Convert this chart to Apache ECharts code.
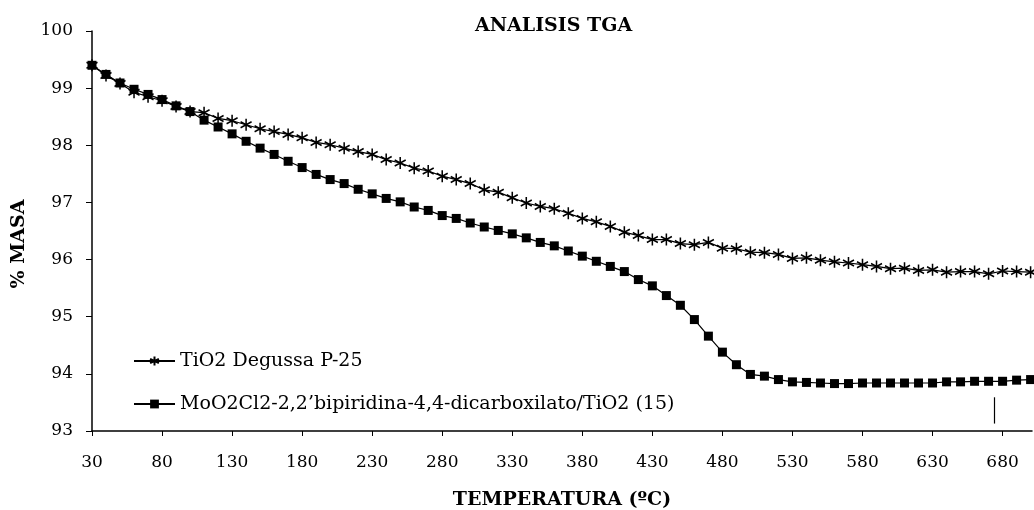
<!DOCTYPE html>
<html>
<head>
<meta charset="utf-8">
<script src="https://cdn.jsdelivr.net/npm/echarts@6/dist/echarts.min.js"></script>
<style>
  html, body { margin: 0; padding: 0; background: #fff; }
  #chart { width: 1034px; height: 510px; }
</style>
</head>
<body>
<div id="chart"></div>
<script>
  const temps = [30, 40, 50, 60, 70, 80, 90, 100, 110, 120, 130, 140, 150, 160, 170, 180, 190, 200,
    210, 220, 230, 240, 250, 260, 270, 280, 290, 300, 310, 320, 330, 340, 350, 360, 370, 380,
    390, 400, 410, 420, 430, 440, 450, 460, 470, 480, 490, 500, 510, 520, 530, 540, 550, 560,
    570, 580, 590, 600, 610, 620, 630, 640, 650, 660, 670, 680, 690, 700];

  const tio2 = [99.40, 99.22, 99.08, 98.93, 98.85, 98.78, 98.68, 98.59, 98.57, 98.47, 98.43, 98.36,
    98.29, 98.24, 98.19, 98.13, 98.05, 98.01, 97.95, 97.89, 97.84, 97.75, 97.69, 97.60, 97.55,
    97.46, 97.40, 97.33, 97.22, 97.18, 97.08, 96.99, 96.93, 96.89, 96.81, 96.72, 96.66, 96.58,
    96.48, 96.42, 96.35, 96.35, 96.28, 96.26, 96.30, 96.20, 96.19, 96.13, 96.12, 96.09, 96.02,
    96.03, 95.99, 95.96, 95.94, 95.91, 95.88, 95.84, 95.85, 95.81, 95.82, 95.78, 95.79, 95.79,
    95.75, 95.80, 95.79, 95.78];

  const moo2 = [99.40, 99.24, 99.09, 98.98, 98.89, 98.80, 98.69, 98.59, 98.44, 98.32, 98.20, 98.07,
    97.95, 97.84, 97.72, 97.61, 97.49, 97.40, 97.33, 97.23, 97.15, 97.07, 97.01, 96.92, 96.86,
    96.77, 96.72, 96.64, 96.57, 96.51, 96.45, 96.38, 96.30, 96.24, 96.15, 96.06, 95.97, 95.88,
    95.79, 95.65, 95.54, 95.37, 95.20, 94.95, 94.66, 94.38, 94.16, 93.99, 93.96, 93.90, 93.86,
    93.85, 93.84, 93.83, 93.83, 93.84, 93.84, 93.84, 93.84, 93.84, 93.84, 93.86, 93.86, 93.87,
    93.87, 93.87, 93.89, 93.90];

  const xTicks = [30, 80, 130, 180, 230, 280, 330, 380, 430, 480, 530, 580, 630, 680];
  const seriesNames = ['TiO2 Degussa P-25', 'MoO2Cl2-2,2\u2019bipiridina-4,4-dicarboxilato/TiO2 (15)'];
  // stray vertical stroke near the lower right of the original
  const strayMark = [[674, 93.59], [674, 93.13]];

  const font = '"DejaVu Serif", serif';
  const star = 'path://M0,-5L0,5M-4.33,-2.5L4.33,2.5M-4.33,2.5L4.33,-2.5';

  const chart = echarts.init(document.getElementById('chart'));
  chart.setOption({
    animation: false,
    backgroundColor: '#fff',
    title: {
      text: 'ANALISIS TGA',
      left: 470,
      top: 12,
      textStyle: { fontFamily: font, fontSize: 19, fontWeight: 'bold', color: '#000' }
    },
    grid: { left: 92, right: 2, top: 31, bottom: 79, containLabel: false, outerBoundsMode: 'none' },
    legend: {
      orient: 'vertical',
      left: 128,
      top: 345,
      itemWidth: 41,
      itemHeight: 11,
      itemGap: 21,
      textStyle: { fontFamily: font, fontSize: 19, color: '#000', lineHeight: 22 },
      data: seriesNames
    },
    xAxis: {
      type: 'value',
      min: 30,
      max: 701,
      interval: 50,
      name: 'TEMPERATURA (ºC)',
      nameLocation: 'middle',
      nameGap: 60,
      nameTextStyle: { fontFamily: font, fontSize: 19, fontWeight: 'bold', color: '#000' },
      axisLine: { lineStyle: { color: '#000', width: 1.5 } },
      axisTick: { length: 5, lineStyle: { color: '#000' }, customValues: xTicks },
      axisLabel: { fontFamily: font, fontSize: 17, color: '#000', margin: 23, customValues: xTicks },
      splitLine: { show: false }
    },
    yAxis: {
      type: 'value',
      min: 93,
      max: 100,
      interval: 1,
      name: '% MASA',
      nameLocation: 'middle',
      nameGap: 63,
      nameTextStyle: { fontFamily: font, fontSize: 19, fontWeight: 'bold', color: '#000', padding: [0, 26, 0, 0] },
      axisLine: { show: true, lineStyle: { color: '#000', width: 1.5 } },
      axisTick: { show: true, length: 6, lineStyle: { color: '#000' } },
      axisLabel: { fontFamily: font, fontSize: 17, color: '#000', margin: 19 },
      splitLine: { show: false }
    },
    series: [
      {
        name: seriesNames[0],
        type: 'line',
        data: temps.map((t, i) => [t, tio2[i]]),
        symbol: star,
        symbolSize: [11, 12],
        showAllSymbol: true,
        lineStyle: { color: '#000', width: 1.2 },
        itemStyle: { color: '#000', borderColor: '#000', borderWidth: 1.6 },
        z: 3
      },
      {
        name: seriesNames[1],
        type: 'line',
        data: temps.map((t, i) => [t, moo2[i]]),
        symbol: 'rect',
        symbolSize: 9,
        showAllSymbol: true,
        lineStyle: { color: '#000', width: 1.2 },
        itemStyle: { color: '#000', borderWidth: 0 },
        z: 2,
        markLine: {
          silent: true,
          symbol: 'none',
          label: { show: false },
          lineStyle: { color: '#000', width: 1.2, type: 'solid' },
          data: [[{ coord: strayMark[0] }, { coord: strayMark[1] }]]
        }
      }
    ]
  });
</script>
</body>
</html>
